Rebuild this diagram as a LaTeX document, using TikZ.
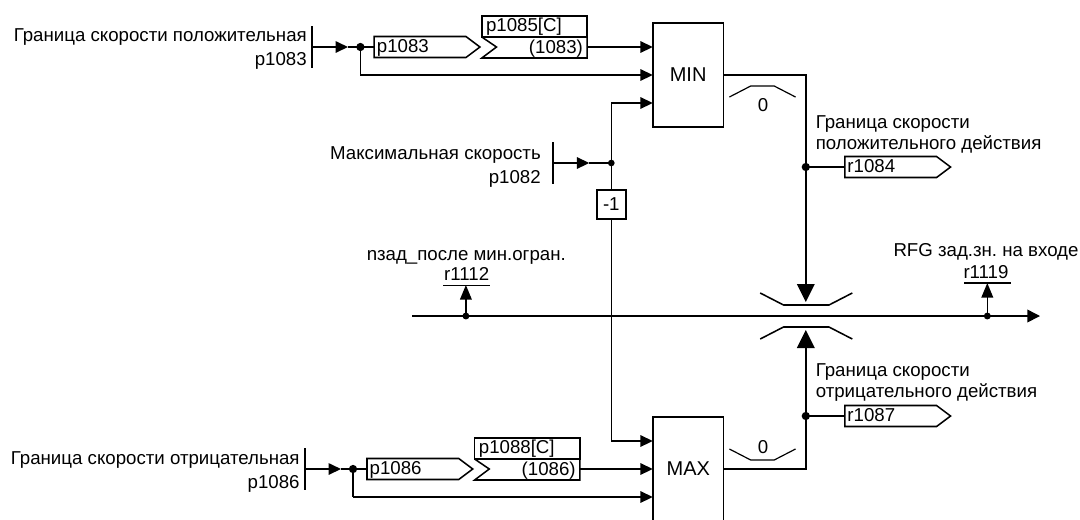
\documentclass[tikz,border=0pt]{standalone}
\usepackage{fontspec}
\setmainfont{Liberation Sans}
\usetikzlibrary{arrows.meta}
\frenchspacing
\tikzset{
  wire/.style={line width=1.15pt,line join=miter},
  ar/.style={wire,-{Triangle[length=9.3pt,width=8.6pt]}},
  upar/.style={wire,-{Triangle[length=11pt,width=8.8pt]}},
  bigar/.style={wire,-{Triangle[length=13.5pt,width=13.2pt]}},
  dotn/.style={circle,fill=black,inner sep=0pt,minimum size=#1},
  lab/.style={inner sep=0pt,font=\fontsize{14pt}{16pt}\selectfont},
  blockbox/.style={draw,line width=1.15pt,fill=white,inner sep=0pt,outer sep=0pt},
  tagbody/.style={inner sep=0pt,outer sep=0pt,minimum width=68.8pt,minimum height=15.75pt},
  tagtext/.style={lab,anchor=base west}
}
% tag: name, x, y (left-centre), text
\newcommand{\tagshape}[4]{%
  \node[tagbody,anchor=west] (#1) at (#2,#3) {};
  \coordinate (#1tip) at ([xshift=10.5pt]#1.east);
  \draw[wire] (#1.north west) -- (#1.north east) -- (#1tip) -- (#1.south east) -- (#1.south west) -- cycle;
  \node[tagtext] at ([xshift=1.8pt,yshift=-3.75pt]#1.west) {#4};
}
% parameter block: name, x, y (top), upper text, lower text
\newcommand{\parblock}[5]{%
  \node[blockbox,anchor=north west,minimum width=79pt,minimum height=15.75pt] (#1) at (#2,#3) {};
  \coordinate (#1sw) at (#1.south west);
  \coordinate (#1se) at (#1.south east);
  \coordinate (#1lo) at ([yshift=-15.75pt]#1.south west);
  \coordinate (#1lr) at ([yshift=-15.75pt]#1.south east);
  \coordinate (#1out) at ([yshift=-7.5pt]#1.south east);
  \draw[wire] (#1sw) -- ([xshift=11pt,yshift=-7.5pt]#1sw) -- (#1lo) -- (#1lr) -- (#1se);
  \node[tagtext] at ([xshift=3pt,yshift=-4pt]#1.west) {#4};
  \node[lab,anchor=base east] at ([xshift=-3pt,yshift=-12pt]#1.south east) {#5};
}
\begin{document}
\begin{tikzpicture}[x=0.75pt,y=-0.75pt]
\useasboundingbox (0,0) rectangle (1080,519);

% ---------- top input
\coordinate (barAt) at (312,26); \coordinate (barAb) at (312,68);
\coordinate (inA) at (312,47); \coordinate (tipA) at (348,47);
\node[dotn=6.2pt] (jA) at (360.4,47) {};
\coordinate (bendA) at (360.4,75);
\draw[wire] (barAt) -- (barAb);
\node[lab,anchor=base east] (tA1) at (307,41.7) {Граница скорости положительная};
\node[lab,anchor=base east] (tA2) at (307,65.7) {p1083};
\tagshape{pA}{374.2}{47}{p1083}
\parblock{pB}{481.8}{16}{p1085[C]}{(1083)}
\node[blockbox,minimum width=53pt,minimum height=78pt,anchor=north west] (min) at (652.8,23) {};
\node[lab,font=\fontsize{15pt}{17pt}\selectfont] at (min.center) {MIN};
\coordinate (minI1) at (652.8,47); \coordinate (minI2) at (652.8,75); \coordinate (minI3) at (652.8,103);
\draw[ar] (inA) -- (tipA);
\draw[wire] (tipA) -- (jA.center) -- (pA.west);
\draw[ar] (pBout) -- (minI1);
\draw[wire] (jA.center) -- (bendA);
\draw[ar] (bendA) -- (minI2);

% ---------- max speed
\node[lab,anchor=base east] (tM1) at (541,159.3) {Максимальная скорость};
\node[lab,anchor=base east] (tM2) at (541,183) {p1082};
\coordinate (barMt) at (553,142); \coordinate (barMb) at (553,184.3);
\coordinate (inM) at (553,163); \coordinate (tipM) at (589.3,163);
\node[dotn=5pt] (jM) at (611.3,163) {};
\node[blockbox,minimum width=21.8pt,minimum height=21.75pt,anchor=center,font=\fontsize{14pt}{16pt}\selectfont] (neg) at (611.3,204.5) {-1};
\coordinate (bendM1) at (611.3,103); \coordinate (bendM2) at (611.3,441);
\draw[wire] (barMt) -- (barMb);
\draw[ar] (inM) -- (tipM);
\draw[wire] (tipM) -- (jM.center) -- (neg.north);

% ---------- main line
\coordinate (mainS) at (412.3,316); \coordinate (mainE) at (1040,316);
\draw[wire] (neg.south) -- (bendM2);
\draw[ar] (jM.center) -- (bendM1) -- (minI3);
\draw[wire,-{Triangle[length=9.5pt,width=9.5pt]}] (mainS) -- (mainE);

% ---------- outputs: upper limit
\coordinate (outU) at (723.5,75); \coordinate (cornU) at (805.8,75);
\node[dotn=6.2pt] (jU) at (805.8,167) {};
\coordinate (tipU) at (805.8,302);
\draw[wire] (outU) -- (cornU) -- (jU.center);
\draw[bigar] (jU.center) -- (tipU);
\tagshape{rU}{844.8}{167}{r1084}
\draw[wire] (jU.center) -- (rU.west);
\node[lab,anchor=base west] at (815.5,128) {Граница скорости};
\node[lab,anchor=base west] at (815.5,149) {положительного действия};
\draw[wire,line width=0.9pt] (729.4,97) -- (750.7,86) -- (774.2,86) -- (795.5,97);
\node[lab] (zU) at (763,105) {0};

% ---------- bracket
\draw[wire] (760.2,293) -- (783.5,305) -- (829,305) -- (852.3,293);
\draw[wire] (760.2,339) -- (783.5,327) -- (829,327) -- (852.3,339);

% ---------- probes
\node[dotn=5.2pt] (jP) at (465.9,316) {};
\coordinate (tipP) at (465.9,285);
\coordinate (barPl) at (443.3,285.5); \coordinate (barPr) at (489.5,285.5);
\draw[wire] (barPl) -- (barPr);
\draw[upar] (jP.center) -- (tipP);
\node[lab,anchor=base] at (466.7,280.7) {r1112};
\node[lab,anchor=base] at (466.3,260) {nзад\_после мин.огран.};

\node[dotn=5.2pt] (jQ) at (987.3,316) {};
\coordinate (tipQ) at (987.3,283);
\coordinate (barQl) at (964.2,283); \coordinate (barQr) at (1010.7,283);
\draw[wire] (barQl) -- (barQr);
\draw[upar] (jQ.center) -- (tipQ);
\node[lab,anchor=base] at (986,278) {r1119};
\node[lab,anchor=base] at (986,256.7) {RFG зад.зн. на входе};

% ---------- bottom input
\coordinate (barBt) at (304.8,448); \coordinate (barBb) at (304.8,490);
\coordinate (inB) at (304.8,469); \coordinate (tipB) at (341,469);
\node[dotn=6.2pt] (jB) at (353,469) {};
\coordinate (bendB) at (353,497);
\draw[wire] (barBt) -- (barBb);
\node[lab,anchor=base east] at (299.8,464) {Граница скорости отрицательная};
\node[lab,anchor=base east] at (299.8,488) {p1086};
\tagshape{pC}{367}{469}{p1086}
\parblock{pD}{474.6}{438}{p1088[C]}{(1086)}
\node[blockbox,minimum width=53pt,minimum height=78pt,anchor=north west] (max) at (652.8,417) {};
\node[lab,font=\fontsize{15pt}{17pt}\selectfont] at (688.3,469) {MAX};
\coordinate (maxI1) at (652.8,441); \coordinate (maxI2) at (652.8,469); \coordinate (maxI3) at (652.8,497);
\draw[ar] (inB) -- (tipB);
\draw[wire] (tipB) -- (jB.center) -- (pC.west);
\draw[ar] (pDout) -- (maxI2);
\draw[wire] (jB.center) -- (bendB);
\draw[ar] (bendB) -- (maxI3);
\draw[ar] (bendM2) -- (maxI1);

% ---------- outputs: lower limit
\coordinate (outL) at (723.5,469); \coordinate (cornL) at (805.8,469);
\node[dotn=6.2pt] (jL) at (805.8,416) {};
\coordinate (tipL) at (805.8,330);
\draw[wire] (outL) -- (cornL) -- (jL.center);
\draw[bigar] (jL.center) -- (tipL);
\tagshape{rL}{844.8}{416}{r1087}
\draw[wire] (jL.center) -- (rL.west);
\node[lab,anchor=base west] at (815.5,376.3) {Граница скорости};
\node[lab,anchor=base west] at (815.5,397.3) {отрицательного действия};
\draw[wire,line width=0.9pt] (729.4,449) -- (750.7,460) -- (774.2,460) -- (795.5,449);
\node[lab] (zL) at (763,447) {0};
\end{tikzpicture}
\end{document}
